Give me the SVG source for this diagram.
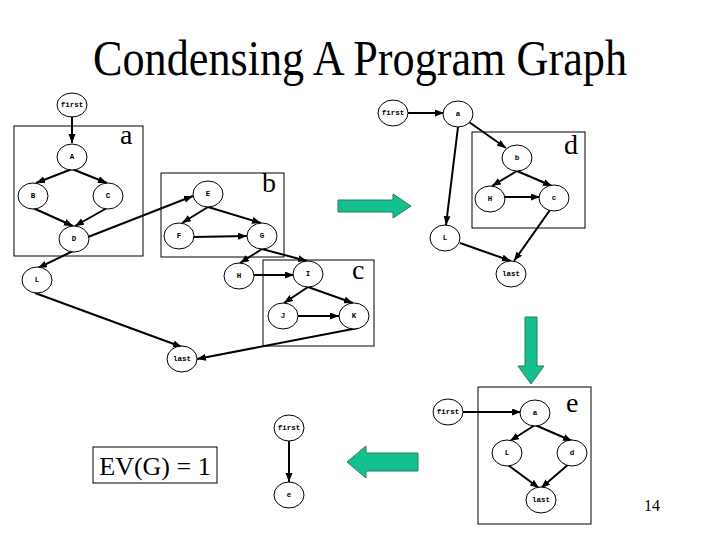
<svg xmlns="http://www.w3.org/2000/svg" width="720" height="540" viewBox="0 0 720 540">
<style>
.n ellipse{fill:#fff;stroke:#000;stroke-width:1}
.n text{font-family:"Liberation Mono",monospace;font-size:7.5px;font-weight:bold;text-anchor:middle;dominant-baseline:central}
.box{fill:none;stroke:#000;stroke-width:1}
.lbl{font-family:"Liberation Serif",serif;font-size:28px}
.e line{stroke:#000;stroke-width:2;marker-end:url(#ah)}
.g{fill:#14c08e;stroke:#2a7a60;stroke-width:1}
.t{font-family:"Liberation Serif",serif}
</style>
<defs>
<marker id="ah" markerUnits="userSpaceOnUse" markerWidth="10" markerHeight="8" refX="9" refY="3.5" orient="auto">
<path d="M0,0 L9,3.5 L0,7 z" fill="#000"/>
</marker>
</defs>
<rect width="720" height="540" fill="#fff"/>
<text class="t" x="93" y="75" font-size="50" textLength="534" lengthAdjust="spacingAndGlyphs">Condensing A Program Graph</text>

<g id="boxes">
<rect class="box" x="14" y="126" width="129" height="130"/>
<text class="lbl" x="120" y="144">a</text>
<rect class="box" x="161" y="173" width="123" height="84"/>
<text class="lbl" x="262" y="192">b</text>
<rect class="box" x="263" y="260" width="111" height="86"/>
<text class="lbl" x="352" y="279">c</text>
<rect class="box" x="472" y="132" width="113" height="96"/>
<text class="lbl" x="564" y="154">d</text>
<rect class="box" x="478" y="387" width="113" height="137"/>
<text class="lbl" x="566" y="412">e</text>
</g>

<g id="connectors" class="e">
<line x1="72" y1="117" x2="72" y2="143"/>
<line x1="72" y1="169" x2="36" y2="183"/>
<line x1="72" y1="169" x2="107" y2="183"/>
<line x1="33" y1="208" x2="73" y2="226"/>
<line x1="107" y1="208" x2="75" y2="226"/>
<line x1="88" y1="237" x2="193" y2="196"/>
<line x1="73" y1="251" x2="38" y2="268"/>
<line x1="35" y1="293" x2="182" y2="347"/>
<line x1="358" y1="328" x2="197" y2="359"/>
<line x1="208" y1="207" x2="182" y2="223"/>
<line x1="208" y1="207" x2="261" y2="223"/>
<line x1="194" y1="237" x2="247" y2="236"/>
<line x1="262" y1="249" x2="240" y2="263"/>
<line x1="262" y1="249" x2="307" y2="261"/>
<line x1="254" y1="275" x2="294" y2="275"/>
<line x1="308" y1="287" x2="284" y2="303"/>
<line x1="308" y1="287" x2="353" y2="303"/>
<line x1="297" y1="316" x2="339" y2="316"/>
<line x1="408" y1="113" x2="444" y2="113"/>
<line x1="469" y1="122" x2="506" y2="148"/>
<line x1="458" y1="127" x2="446" y2="225"/>
<line x1="517" y1="171" x2="492" y2="186"/>
<line x1="517" y1="171" x2="552" y2="186"/>
<line x1="505" y1="197" x2="540" y2="197"/>
<line x1="550" y1="210" x2="514" y2="261"/>
<line x1="460" y1="243" x2="511" y2="261"/>
<line x1="463" y1="412" x2="521" y2="412"/>
<line x1="535" y1="425" x2="510" y2="441"/>
<line x1="535" y1="425" x2="572" y2="441"/>
<line x1="508" y1="465" x2="539" y2="488"/>
<line x1="570" y1="463" x2="541" y2="488"/>
<line x1="289" y1="441" x2="289" y2="482"/>
</g>

<g id="n-first1" class="n"><ellipse cx="72" cy="105" rx="15" ry="12"/><text x="72" y="105">first</text></g>
<g id="n-A" class="n"><ellipse cx="72" cy="157" rx="15" ry="13"/><text x="72" y="157">A</text></g>
<g id="n-B" class="n"><ellipse cx="33" cy="196" rx="15" ry="13"/><text x="33" y="196">B</text></g>
<g id="n-C" class="n"><ellipse cx="108" cy="196" rx="15" ry="13"/><text x="108" y="196">C</text></g>
<g id="n-D" class="n"><ellipse cx="74" cy="239" rx="15" ry="13"/><text x="74" y="239">D</text></g>
<g id="n-E" class="n"><ellipse cx="208" cy="194" rx="15" ry="13"/><text x="208" y="194">E</text></g>
<g id="n-F" class="n"><ellipse cx="179" cy="236" rx="15" ry="13"/><text x="179" y="236">F</text></g>
<g id="n-G" class="n"><ellipse cx="262" cy="236" rx="15" ry="13"/><text x="262" y="236">G</text></g>
<g id="n-H" class="n"><ellipse cx="239" cy="276" rx="15" ry="13"/><text x="239" y="276">H</text></g>
<g id="n-I" class="n"><ellipse cx="308" cy="274" rx="15" ry="13"/><text x="308" y="274">I</text></g>
<g id="n-J" class="n"><ellipse cx="283" cy="316" rx="15" ry="13"/><text x="283" y="316">J</text></g>
<g id="n-K" class="n"><ellipse cx="354" cy="316" rx="15" ry="13"/><text x="354" y="316">K</text></g>
<g id="n-L1" class="n"><ellipse cx="37" cy="280" rx="15" ry="13"/><text x="37" y="280">L</text></g>
<g id="n-last1" class="n"><ellipse cx="182" cy="359" rx="15" ry="13"/><text x="182" y="359">last</text></g>

<g id="n-first2" class="n"><ellipse cx="393" cy="113" rx="15" ry="13"/><text x="393" y="113">first</text></g>
<g id="n-a2" class="n"><ellipse cx="458" cy="114" rx="15" ry="13"/><text x="458" y="114">a</text></g>
<g id="n-b2" class="n"><ellipse cx="517" cy="158" rx="15" ry="13"/><text x="517" y="158">b</text></g>
<g id="n-H2" class="n"><ellipse cx="490" cy="199" rx="15" ry="13"/><text x="490" y="199">H</text></g>
<g id="n-c2" class="n"><ellipse cx="554" cy="198" rx="15" ry="13"/><text x="554" y="198">c</text></g>
<g id="n-L2" class="n"><ellipse cx="445" cy="238" rx="15" ry="13"/><text x="445" y="238">L</text></g>
<g id="n-last2" class="n"><ellipse cx="511" cy="274" rx="15" ry="13"/><text x="511" y="274">last</text></g>

<g id="n-first3" class="n"><ellipse cx="448" cy="412" rx="15" ry="13"/><text x="448" y="412">first</text></g>
<g id="n-a3" class="n"><ellipse cx="535" cy="413" rx="15" ry="13"/><text x="535" y="413">a</text></g>
<g id="n-L3" class="n"><ellipse cx="507" cy="453" rx="15" ry="13"/><text x="507" y="453">L</text></g>
<g id="n-d3" class="n"><ellipse cx="572" cy="453" rx="15" ry="13"/><text x="572" y="453">d</text></g>
<g id="n-last3" class="n"><ellipse cx="541" cy="500" rx="15" ry="13"/><text x="541" y="500">last</text></g>

<g id="n-first4" class="n"><ellipse cx="289" cy="428" rx="15" ry="13"/><text x="289" y="428">first</text></g>
<g id="n-e4" class="n"><ellipse cx="289" cy="495" rx="15" ry="13"/><text x="289" y="495">e</text></g>

<g id="arrows">
<polygon class="g" points="338,200 393,200 393,194 411,206 393,218 393,212 338,212"/>
<polygon class="g" points="525,317 537,317 537,366 544,366 531,384 518,366 525,366"/>
<polygon class="g" points="418,453 366,453 366,446 347,462 366,478 366,471 418,471"/>
</g>

<g id="ev">
<rect x="93" y="447" width="124" height="36" fill="#fff" stroke="#000" stroke-width="1"/>
<text class="t" x="155" y="475" font-size="26" text-anchor="middle">EV(G) = 1</text>
</g>
<text class="t" x="652" y="511" font-size="16" text-anchor="middle">14</text>
</svg>
